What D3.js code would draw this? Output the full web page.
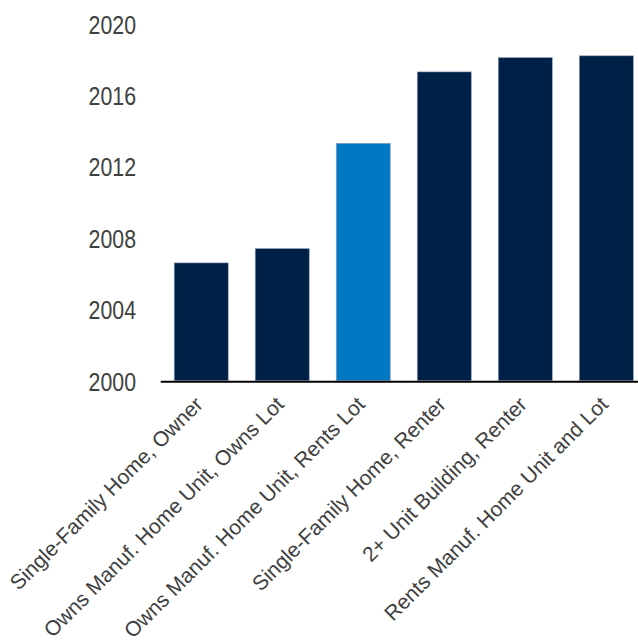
<!DOCTYPE html>
<html>
<head>
<meta charset="utf-8">
<script src="https://cdn.jsdelivr.net/npm/d3@7"></script>
<style>
  html, body { margin: 0; padding: 0; background: #ffffff; }
  svg { display: block; }
</style>
</head>
<body>
<svg id="chart" width="638" height="642"></svg>
<script>
// Housing categories and the year value for each
const categories = [
  "Single-Family Home, Owner",
  "Owns Manuf. Home Unit, Owns Lot",
  "Owns Manuf. Home Unit, Rents Lot",
  "Single-Family Home, Renter",
  "2+ Unit Building, Renter",
  "Rents Manuf. Home Unit and Lot"
];
const years = [2006.6, 2007.4, 2013.3, 2017.3, 2018.1, 2018.2];
const yTicks = [2000, 2004, 2008, 2012, 2016, 2020];
const highlighted = "Owns Manuf. Home Unit, Rents Lot";

const svg = d3.select("#chart");

const x = d3.scaleBand()
  .domain(categories)
  .range([160.7, 646.8])
  .paddingInner(1 / 3)
  .paddingOuter(1 / 6);

const y = d3.scaleLinear()
  .domain([2000, 2020])
  .range([380.7, 23.7]);

const data = categories.map((c, i) => ({ category: c, year: years[i] }));

// Bars
svg.append("g")
  .selectAll("rect")
  .data(data)
  .join("rect")
  .attr("x", d => x(d.category))
  .attr("y", d => y(d.year))
  .attr("width", x.bandwidth())
  .attr("height", d => y(2000) - y(d.year))
  .attr("fill", d => d.category === highlighted ? "#0079c2" : "#002147")
  .attr("stroke", "#8ea0bb")
  .attr("stroke-width", 0.6);

// Y axis: labels only, no domain line or tick marks
const yAxis = svg.append("g")
  .attr("transform", "translate(136,0)")
  .call(d3.axisLeft(y).tickValues(yTicks).tickFormat(d3.format("d")).tickSize(0).tickPadding(0));
yAxis.select(".domain").remove();
yAxis.selectAll(".tick text")
  .attr("x", null)
  .attr("dy", "0.36em")
  .attr("transform", "scale(0.82,1)")
  .attr("text-anchor", "end")
  .style("font-family", "'Liberation Sans', Arial, sans-serif")
  .style("font-size", "26px")
  .attr("fill", "#404040");

// X axis: baseline and rotated category labels
const xAxis = svg.append("g")
  .attr("transform", `translate(0,${y(2000)})`)
  .call(d3.axisBottom(x).tickSize(0).tickPadding(0));
xAxis.select(".domain")
  .attr("stroke", "#000000")
  .attr("stroke-width", 2)
  .attr("d", `M${x.range()[0]},1H${x.range()[1]}`);
xAxis.selectAll(".tick text")
  .attr("y", null)
  .attr("dy", null)
  .attr("text-anchor", "end")
  .attr("transform", "translate(3,25) rotate(-45)")
  .style("font-family", "'Liberation Sans', Arial, sans-serif")
  .style("font-size", "21px")
  .attr("fill", "#404040");
</script>
</body>
</html>
